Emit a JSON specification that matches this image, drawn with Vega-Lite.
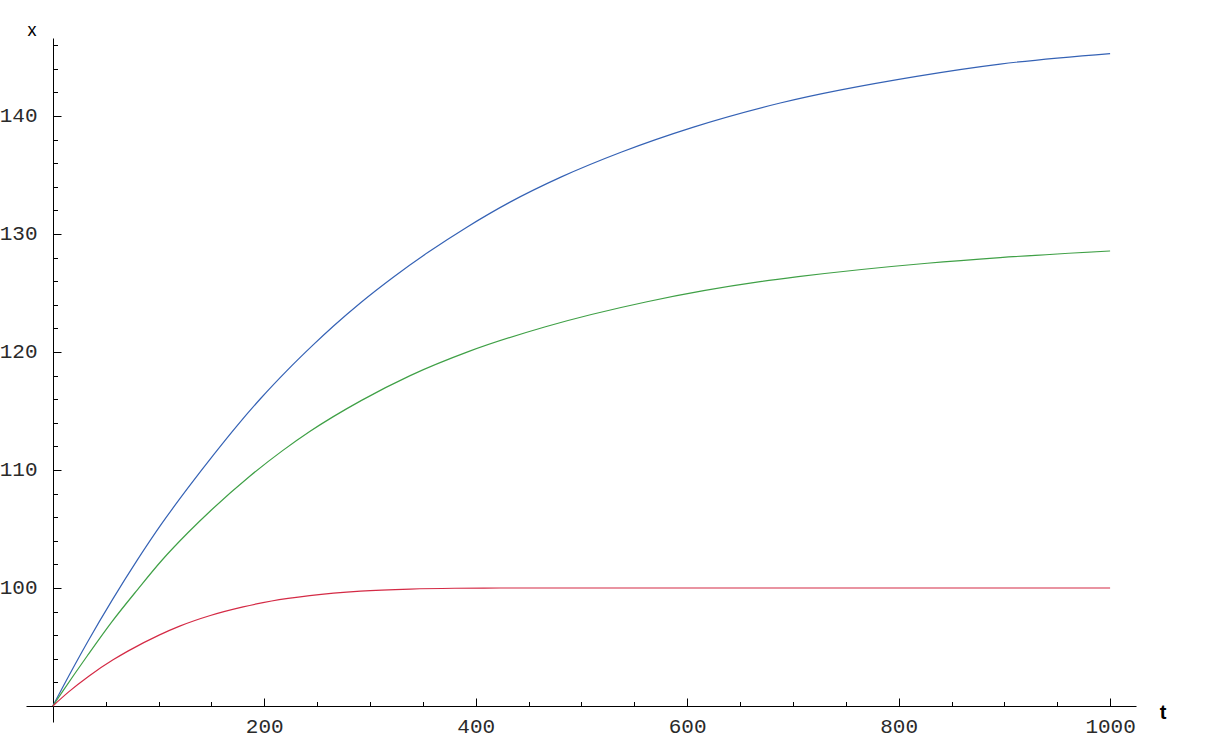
{
  "$schema": "https://vega.github.io/schema/vega-lite/v6.json",
  "width": 1110,
  "height": 684,
  "autosize": {"type": "none"},
  "padding": {"left": 26, "top": 38, "right": 75, "bottom": 17},
  "background": "white",
  "config": {"view": {"stroke": null}},
  "data": {
    "values": [
      {"series": "A", "t": 0, "x": 90},
      {"series": "A", "t": 10, "x": 91.7},
      {"series": "A", "t": 33, "x": 95.45},
      {"series": "A", "t": 56, "x": 98.95},
      {"series": "A", "t": 80, "x": 102.38},
      {"series": "A", "t": 103, "x": 105.45},
      {"series": "A", "t": 128, "x": 108.5},
      {"series": "A", "t": 152, "x": 111.28},
      {"series": "A", "t": 174, "x": 113.72},
      {"series": "A", "t": 197, "x": 116.1},
      {"series": "A", "t": 221, "x": 118.38},
      {"series": "A", "t": 246, "x": 120.58},
      {"series": "A", "t": 265, "x": 122.16},
      {"series": "A", "t": 292, "x": 124.24},
      {"series": "A", "t": 322, "x": 126.34},
      {"series": "A", "t": 355, "x": 128.45},
      {"series": "A", "t": 392, "x": 130.6},
      {"series": "A", "t": 432, "x": 132.68},
      {"series": "A", "t": 481, "x": 134.84},
      {"series": "A", "t": 538, "x": 136.95},
      {"series": "A", "t": 606, "x": 139.06},
      {"series": "A", "t": 688, "x": 141.1},
      {"series": "A", "t": 817, "x": 143.36},
      {"series": "A", "t": 896, "x": 144.4},
      {"series": "A", "t": 1000, "x": 145.29},
      {"series": "B", "t": 0, "x": 90},
      {"series": "B", "t": 9, "x": 91.2},
      {"series": "B", "t": 33, "x": 94.3},
      {"series": "B", "t": 56, "x": 97.15},
      {"series": "B", "t": 80, "x": 99.85},
      {"series": "B", "t": 103, "x": 102.33},
      {"series": "B", "t": 128, "x": 104.7},
      {"series": "B", "t": 150, "x": 106.61},
      {"series": "B", "t": 186, "x": 109.45},
      {"series": "B", "t": 217, "x": 111.62},
      {"series": "B", "t": 243, "x": 113.26},
      {"series": "B", "t": 292, "x": 115.9},
      {"series": "B", "t": 338, "x": 118.0},
      {"series": "B", "t": 393, "x": 120.03},
      {"series": "B", "t": 466, "x": 122.14},
      {"series": "B", "t": 562, "x": 124.26},
      {"series": "B", "t": 669, "x": 125.96},
      {"series": "B", "t": 705, "x": 126.38},
      {"series": "B", "t": 827, "x": 127.52},
      {"series": "B", "t": 896, "x": 128.0},
      {"series": "B", "t": 1000, "x": 128.56},
      {"series": "C", "t": 0, "x": 90},
      {"series": "C", "t": 15, "x": 91.2},
      {"series": "C", "t": 34, "x": 92.53},
      {"series": "C", "t": 57, "x": 93.91},
      {"series": "C", "t": 71, "x": 94.65},
      {"series": "C", "t": 101, "x": 96.03},
      {"series": "C", "t": 120, "x": 96.77},
      {"series": "C", "t": 149, "x": 97.67},
      {"series": "C", "t": 180, "x": 98.4},
      {"series": "C", "t": 207, "x": 98.9},
      {"series": "C", "t": 243, "x": 99.35},
      {"series": "C", "t": 291, "x": 99.73},
      {"series": "C", "t": 338, "x": 99.91},
      {"series": "C", "t": 380, "x": 99.98},
      {"series": "C", "t": 423, "x": 100},
      {"series": "C", "t": 600, "x": 100},
      {"series": "C", "t": 800, "x": 100},
      {"series": "C", "t": 1000, "x": 100}
    ]
  },
  "mark": {"type": "line", "strokeWidth": 1.2, "interpolate": "monotone", "clip": false},
  "encoding": {
    "x": {
      "field": "t",
      "type": "quantitative",
      "scale": {"domain": [-25.35, 1024.5], "nice": false, "zero": false},
      "axis": {
        "orient": "bottom",
        "offset": -16,
        "values": [50, 100, 150, 200, 250, 300, 350, 400, 450, 500, 550, 600, 650, 700, 750, 800, 850, 900, 950, 1000],
        "grid": false,
        "domainColor": "#000",
        "domainWidth": 1,
        "tickColor": "#000",
        "tickWidth": 1,
        "tickSize": {"condition": {"test": "datum.value % 200 === 0", "value": -8}, "value": -4.5},
        "labelExpr": "datum.value % 200 === 0 ? datum.label : ''",
        "format": "d",
        "labelFont": "Liberation Mono",
        "labelFontSize": 21,
        "labelColor": "#2a2a2a",
        "labelPadding": 17,
        "labelFlush": false,
        "labelOverlap": false,
        "title": "t",
        "titleFont": "Liberation Sans",
        "titleFontWeight": "bold",
        "titleFontSize": 20,
        "titleColor": "#000",
        "titleAngle": 0,
        "titleX": 1136.5,
        "titleY": 12,
        "titleAlign": "center",
        "titleBaseline": "alphabetic"
      }
    },
    "y": {
      "field": "x",
      "type": "quantitative",
      "scale": {"domain": [88.644, 146.61], "nice": false, "zero": false},
      "axis": {
        "orient": "left",
        "offset": -27,
        "values": [92, 94, 96, 98, 100, 102, 104, 106, 108, 110, 112, 114, 116, 118, 120, 122, 124, 126, 128, 130, 132, 134, 136, 138, 140, 142, 144, 146],
        "grid": false,
        "domainColor": "#000",
        "domainWidth": 1,
        "tickColor": "#000",
        "tickWidth": 1,
        "tickSize": {"condition": {"test": "datum.value % 10 === 0", "value": -8}, "value": -4.5},
        "labelExpr": "datum.value % 10 === 0 ? datum.label : ''",
        "format": "d",
        "labelFont": "Liberation Mono",
        "labelFontSize": 21,
        "labelColor": "#2a2a2a",
        "labelPadding": 24,
        "labelFlush": false,
        "labelOverlap": false,
        "title": "x",
        "titleFont": "Liberation Sans",
        "titleFontWeight": "normal",
        "titleFontSize": 18,
        "titleColor": "#000",
        "titleAngle": 0,
        "titleX": -21.5,
        "titleY": -3,
        "titleAlign": "center",
        "titleBaseline": "alphabetic"
      }
    },
    "color": {
      "field": "series",
      "type": "nominal",
      "scale": {"domain": ["A", "B", "C"], "range": ["#3562b5", "#3fa046", "#d42a45"]},
      "legend": null
    }
  }
}
